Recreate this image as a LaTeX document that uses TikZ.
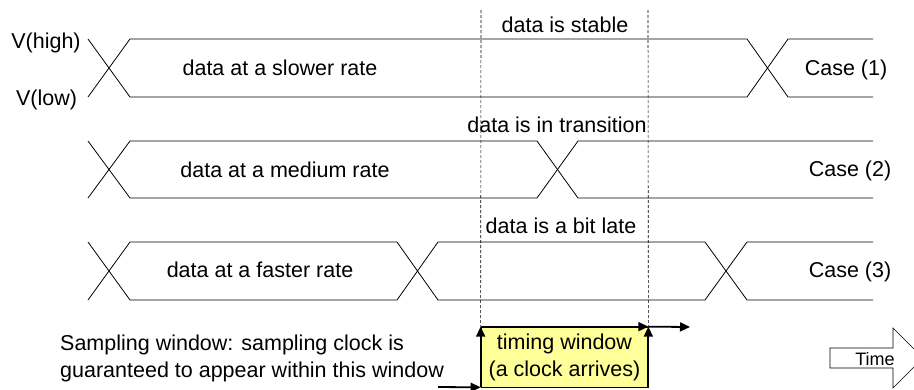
\documentclass[tikz,border=0pt]{standalone}
\usepackage{fontspec}
\setmainfont{Liberation Sans}
\usetikzlibrary{arrows.meta}
\definecolor{boxyellow}{RGB}{255,255,153}
\tikzset{
  sig/.style={line width=0.8pt, line join=miter},
  lbl/.style={anchor=base, inner sep=0pt, font=\fontsize{21.5}{27}\selectfont},
  guide/.style={line width=0.6pt, dash pattern=on 3pt off 2pt},
  tbox/.style={draw, line width=0.7pt, fill=boxyellow, minimum width=167pt, minimum height=60pt, inner sep=0pt, align=center, font=\fontsize{21.5}{27}\selectfont},
  clk/.style={line width=1.8pt, -{Triangle[length=10pt,width=9pt]}},
  timearrow/.style={draw, line width=0.6pt, fill=white}
}
\begin{document}
\begin{tikzpicture}[x=1pt,y=-1pt]
\useasboundingbox (0,0) rectangle (914,389);

% guides
\node[tbox] (tw) at (564.5,357) {timing window\\(a clock arrives)};
\coordinate (g1) at (481,10);
\coordinate (g2) at (648,10);
\draw[guide] (g1) -- (tw.north west);
\draw[guide] (g2) -- (tw.north east);

% row 1
\draw[sig] (88,39) -- (130,97) -- (747,97) -- (788,39) -- (873,39);
\draw[sig] (88,97) -- (130,39) -- (747,39) -- (788,97) -- (873,97);
% row 2
\draw[sig] (88,141) -- (130,198) -- (537,198) -- (578,141) -- (873,141);
\draw[sig] (88,198) -- (130,141) -- (537,141) -- (578,198) -- (873,198);
% row 3
\draw[sig] (88,242) -- (130,300) -- (397,300) -- (438,242) -- (705,242) -- (747,300) -- (873,300);
\draw[sig] (88,300) -- (130,242) -- (397,242) -- (438,300) -- (705,300) -- (747,242) -- (873,242);

% labels
\node[lbl] (vh) at (46,48) {V(high)};
\node[lbl] (vl) at (46.5,105) {V(low)};
\node[lbl] (r1) at (280,75) {data at a slower rate};
\node[lbl] (c1) at (846,75) {Case (1)};
\node[lbl] (s1) at (565,32) {data is stable};
\node[lbl] (s2) at (557,132) {data is in transition};
\node[lbl] (r2) at (285,177) {data at a medium rate};
\node[lbl] (c2) at (850,176) {Case (2)};
\node[lbl] (s3) at (561,233) {data is a bit late};
\node[lbl] (r3) at (260,277) {data at a faster rate};
\node[lbl] (c3) at (850,277) {Case (3)};
\node[lbl, anchor=base west, align=left] (sw) at (60,377) {Sampling window: sampling clock is\\guaranteed to appear within this window};

% clock arrows
\coordinate (k0) at (438,387);
\coordinate (k1) at (690,327);
\draw[clk] (k0) -- (tw.south west);
\draw[clk] (tw.south west) -- (tw.north west);
\draw[clk] (tw.north west) -- (tw.north east);
\draw[clk] (tw.south east) -- (tw.north east);
\draw[clk] (tw.north east) -- (k1);

% time arrow
\draw[timearrow] (830,348) -- (893,348) -- (893,328) -- (923,358) -- (893,388) -- (893,368) -- (830,368) -- cycle;
\node[anchor=base, inner sep=0pt, font=\fontsize{18}{22}\selectfont] (time) at (875,365) {Time};
\end{tikzpicture}
\end{document}
